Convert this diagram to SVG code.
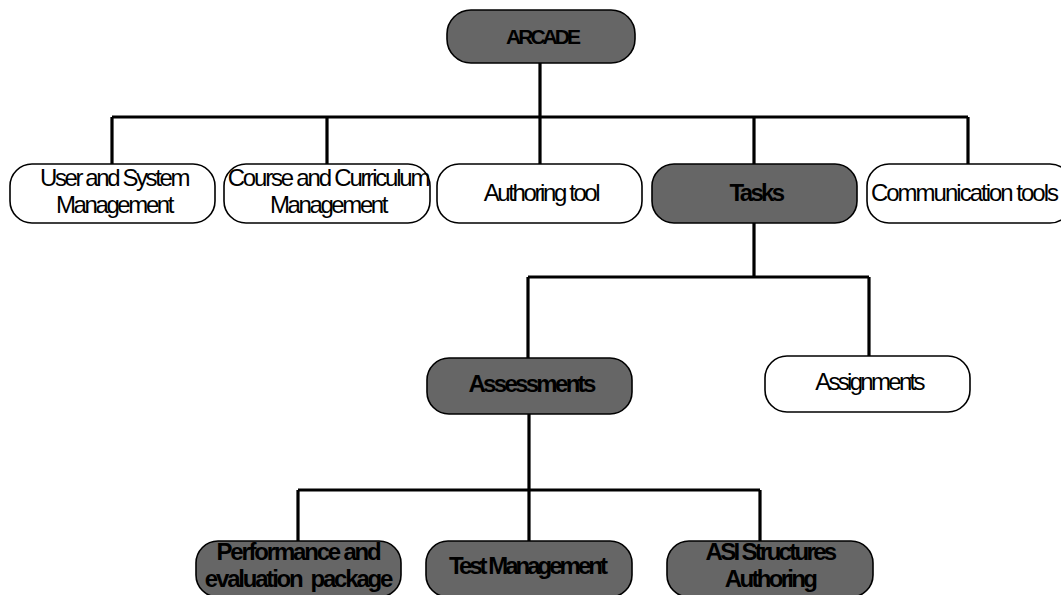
<svg xmlns="http://www.w3.org/2000/svg" width="1061" height="595" viewBox="0 0 1061 595">
<style>
.box{stroke:#000;stroke-width:1.6}
.w{fill:#fff}
.d{fill:#666}
.t{font-family:"Liberation Sans",Arial,sans-serif;font-size:24px;letter-spacing:-2.4px;fill:#000;text-anchor:middle}
.b{font-weight:bold;letter-spacing:-2.7px}
.c{fill:none;stroke:#000;stroke-width:3.2}
</style>
<rect width="1061" height="595" fill="#fff"/>
<g id="connectors" class="c">
<path d="M540 63V117M112 117H968M112 117V164M327 117V164M540 117V164M754 117V164M968 117V164"/>
<path d="M754 223V277M528 277H869M528 277V358M869 277V356"/>
<path d="M529 414V490M298 490H760M298 490V541M529 490V541M760 490V541"/>
</g>
<g id="arcade"><rect class="box d" x="447" y="10" width="188" height="53" rx="24"/><text class="t b" x="542" y="44" style="font-size:21px;letter-spacing:-3px">ARCADE</text></g>
<g id="user"><rect class="box w" x="10" y="164" width="205" height="59" rx="22"/><text class="t" x="114" y="186">User and System</text><text class="t" x="114" y="213">Management</text></g>
<g id="course"><rect class="box w" x="224" y="164" width="206" height="59" rx="22"/><text class="t" x="328" y="186" style="letter-spacing:-2.2px">Course and Curriculum</text><text class="t" x="328" y="213">Management</text></g>
<g id="authoring"><rect class="box w" x="437" y="164" width="205" height="59" rx="22"/><text class="t" x="541" y="201">Authoring tool</text></g>
<g id="tasks"><rect class="box d" x="652" y="164" width="205" height="59" rx="22"/><text class="t b" x="756" y="201">Tasks</text></g>
<g id="communication"><rect class="box w" x="867" y="164" width="205" height="59" rx="22"/><text class="t" x="964" y="201" style="letter-spacing:-2px">Communication tools</text></g>
<g id="assessments"><rect class="box d" x="427" y="358" width="205" height="56" rx="22"/><text class="t b" x="531" y="392">Assessments</text></g>
<g id="assignments"><rect class="box w" x="765" y="356" width="205" height="56" rx="22"/><text class="t" x="869" y="390" style="letter-spacing:-2.7px">Assignments</text></g>
<g id="performance"><rect class="box d" x="196" y="541" width="205" height="56" rx="22"/><text class="t b" x="298" y="560" style="letter-spacing:-2.2px">Performance and</text><text class="t b" x="298" y="587" style="letter-spacing:-2.2px;white-space:pre" xml:space="preserve">evaluation  package</text></g>
<g id="test"><rect class="box d" x="426" y="541" width="206" height="56" rx="22"/><text class="t b" x="527" y="574" style="letter-spacing:-3px">Test Management</text></g>
<g id="asi"><rect class="box d" x="667" y="541" width="206" height="56" rx="22"/><text class="t b" x="770" y="560">ASI Structures</text><text class="t b" x="770" y="587">Authoring</text></g>
</svg>
